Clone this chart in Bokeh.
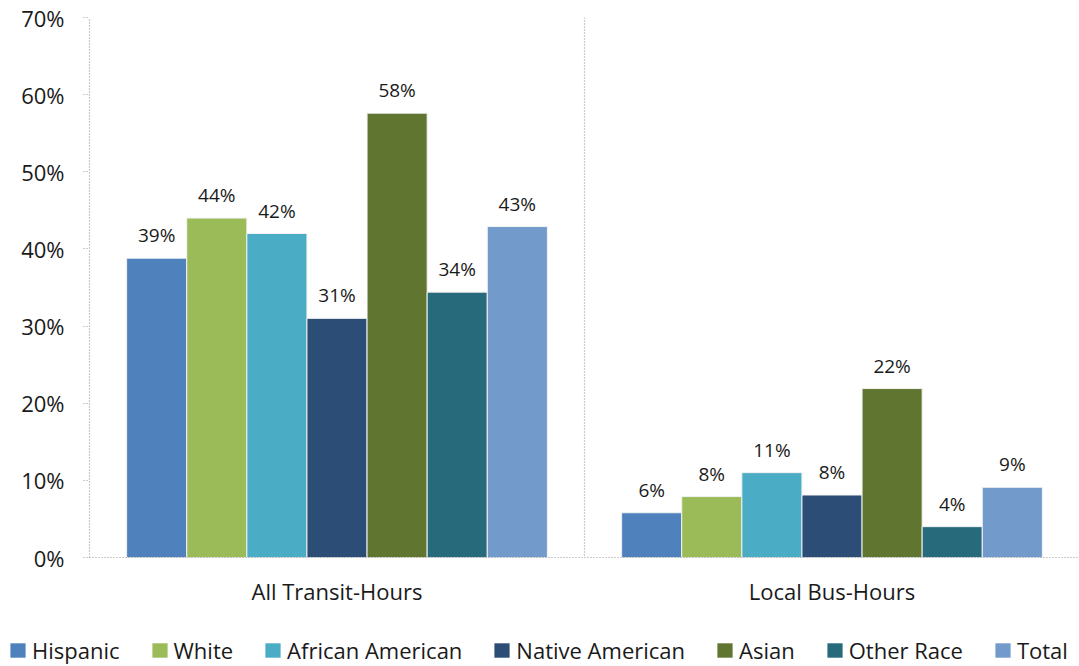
from bokeh.plotting import figure
from bokeh.layouts import column, row
from bokeh.models import (ColumnDataSource, Range1d, FixedTicker, PrintfTickFormatter,
                          Span, Legend, LegendItem, LabelSet)
from bokeh.core.properties import value
from bokeh.embed import file_html
from bokeh.resources import INLINE

groups = ["All Transit-Hours", "Local Bus-Hours"]
series = ["Hispanic", "White", "African American", "Native American", "Asian", "Other Race", "Total"]
colors = ["#4F81BD", "#9BBB59", "#4BACC6", "#2C4D75", "#5F7530", "#276A7C", "#729ACA"]
all_transit = [38.8, 44.0, 42.0, 31.0, 57.6, 34.4, 42.9]
local_bus = [5.8, 7.9, 11.0, 8.1, 21.9, 4.0, 9.1]
values = [all_transit, local_bus]
y_ticks = [0, 10, 20, 30, 40, 50, 60, 70]

FONT = "Open Sans"
TXT = "#1a1a1a"
W = 1079
H_MAIN, H_LEG = 616, 50
frame_left, frame_top, frame_h = 89, 17, 540

p = figure(width=W, height=H_MAIN, output_backend="svg", toolbar_location=None,
           x_range=Range1d(0, 2), y_range=Range1d(0, 70),
           min_border_left=frame_left, min_border_right=0, min_border_top=frame_top,
           min_border_bottom=H_MAIN - frame_top - frame_h)
p.outline_line_color = None
p.xgrid.visible = False
p.ygrid.visible = False

group_frac = 0.85
bw = group_frac / len(series)
for i, (name, col) in enumerate(zip(series, colors)):
    xs, ys, labs = [], [], []
    for g in range(len(groups)):
        xs.append(g + 0.5 - group_frac / 2 + bw * (i + 0.5))
        ys.append(values[g][i])
        labs.append(f"{round(values[g][i])}%")
    src = ColumnDataSource(dict(x=xs, top=ys, lab=labs))
    p.vbar(x="x", top="top", width=bw, source=src, fill_color=col,
           line_color="#f2f2f2", line_width=1)
    p.add_layout(LabelSet(x="x", y="top", text="lab", source=src, text_align="center",
                          text_baseline="middle", y_offset=23, text_font=value(FONT),
                          text_font_size="19px", text_color=TXT))

p.add_layout(Span(location=1, dimension="height", line_color="#999999",
                  line_dash="1 2", line_width=1.2))

# y axis
p.yaxis.ticker = FixedTicker(ticks=y_ticks)
p.yaxis.formatter = PrintfTickFormatter(format="%d%%")
p.yaxis.axis_line_color = "#999999"
p.yaxis.axis_line_dash = "1 2"
p.yaxis.axis_line_width = 1.2
p.yaxis.major_tick_line_color = "#999999"
p.yaxis.major_tick_line_dash = "1 2"
p.yaxis.major_tick_in = 0
p.yaxis.major_tick_out = 6
p.yaxis.minor_tick_line_color = None
p.yaxis.major_label_standoff = 19
p.yaxis.major_label_text_font = FONT
p.yaxis.major_label_text_font_size = "22px"
p.yaxis.major_label_text_color = TXT

# x axis
p.xaxis.ticker = FixedTicker(ticks=[0.5, 1.5])
p.xaxis.major_label_overrides = {0.5: groups[0], 1.5: groups[1]}
p.xaxis.axis_line_color = "#999999"
p.xaxis.axis_line_dash = "1 2"
p.xaxis.axis_line_width = 1.2
p.xaxis.major_tick_line_color = None
p.xaxis.minor_tick_line_color = None
p.xaxis.major_tick_out = 0
p.xaxis.major_label_standoff = 18
p.xaxis.major_label_text_font = FONT
p.xaxis.major_label_text_font_size = "22px"
p.xaxis.major_label_text_color = TXT

# legend strip (zero-height swatch bars only carry the legend colours)
leg = figure(width=W, height=H_LEG, output_backend="svg", toolbar_location=None,
             x_range=Range1d(0, 1), y_range=Range1d(0, 1),
             x_axis_type=None, y_axis_type=None, min_border=0)
leg.outline_line_color = None
if "frame_align" in leg.properties():
    leg.frame_align = False
items = []
for name, col in zip(series, colors):
    r = leg.vbar(x=[0.5], top=[0], bottom=[0], width=0, fill_color=col, line_color=None)
    items.append(LegendItem(label=name, renderers=[r]))
legend = Legend(items=items, orientation="horizontal", location=(8, 1),
                label_text_font=FONT, label_text_font_size="22px", label_text_color=TXT,
                glyph_width=19, glyph_height=18, label_standoff=5, spacing=30,
                padding=0, margin=0, border_line_color=None, background_fill_alpha=0)
leg.add_layout(legend)

layout = column(p, row(leg), spacing=0)
open("out.html", "w").write(file_html(layout, INLINE))
